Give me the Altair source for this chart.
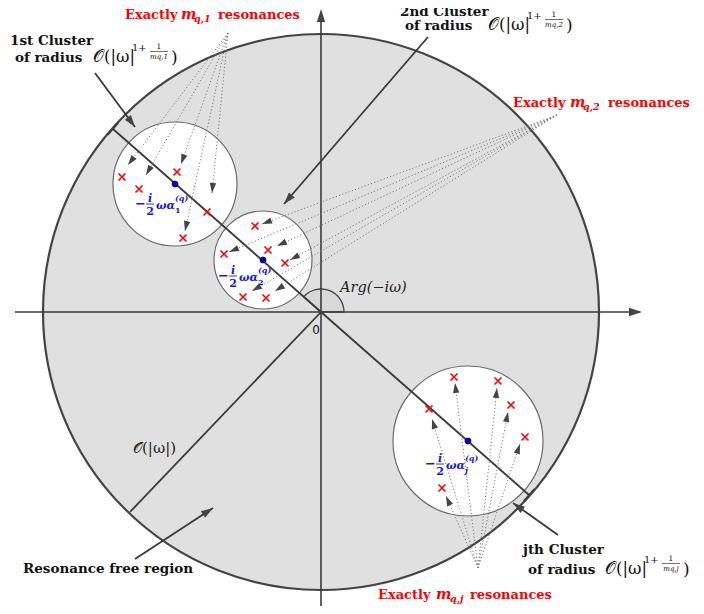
import math
import altair as alt
import pandas as pd

# ---------------- data (diagram geometry in picture units, y downward) ----------------
origin = (321, 312)
big_r = 278
cluster_cx = [175, 263, 468]
cluster_cy = [184, 260, 441]
cluster_r = [62, 49, 75]

res_x = [122, 139, 177, 207, 183,
         255, 224, 268, 285, 243, 266,
         454, 498, 511, 525, 429, 442]
res_y = [177, 189, 172, 212, 238,
         226, 254, 250, 263, 297, 298,
         377, 381, 405, 437, 409, 488]

apex_x = [228, 557, 478]
apex_y = [33, 115, 568]
tip_x = [[128, 146, 181, 212, 185],
         [262, 229, 277, 290, 252, 275],
         [455, 497, 508, 520, 432, 446]]
tip_y = [[165, 175, 164, 193, 231],
         [224, 252, 246, 260, 291, 291],
         [383, 388, 412, 444, 419, 496]]

# rays from the origin (end points on the big circle)
ray_end_x = [113, 529, 130]
ray_end_y = [129, 495, 512]

# label arrows: tail -> tip
larrow_x1 = [95, 428, 558, 135]
larrow_y1 = [73, 37, 535, 559]
larrow_x2 = [135, 284, 513, 213]
larrow_y2 = [127, 204, 503, 508]

cluster_names = ["1st Cluster", "2nd Cluster", "jth Cluster"]
cluster_subs = ["q,1", "q,2", "q,j"]
alpha_subs = ["1", "2", "j"]

RED = "#ff0000"
BLUE = "#1414ee"
BLK = "#111111"
DARK = "#3a3a3a"

# ---------------- scales ----------------
W, H = 688, 598
xs = alt.Scale(domain=[8, 696], nice=False, zero=False)
ys = alt.Scale(domain=[8, 606], nice=False, zero=False, reverse=True)


def ex(f="x"):
    return alt.X(f"{f}:Q", scale=xs, axis=None)


def ey(f="y"):
    return alt.Y(f"{f}:Q", scale=ys, axis=None)


layers = []

# big disc (vega circle symbol: diameter = sqrt(size))
disc = pd.DataFrame({"x": [origin[0]], "y": [origin[1]], "s": [(2 * big_r) ** 2]})
layers.append(alt.Chart(disc).mark_point(shape="circle", filled=True, fill="#e0e0e0",
                                         stroke="#444444", strokeWidth=2.2, opacity=1)
              .encode(x=ex(), y=ey(), size=alt.Size("s:Q", scale=None)))

# clusters
cl = pd.DataFrame({"x": cluster_cx, "y": cluster_cy,
                   "s": [(2 * r) ** 2 for r in cluster_r]})
layers.append(alt.Chart(cl).mark_point(shape="circle", filled=True, fill="white",
                                       stroke="#6a6a6a", strokeWidth=1.2, opacity=1)
              .encode(x=ex(), y=ey(), size=alt.Size("s:Q", scale=None)))

# angle sector Arg(-i w)
phi = math.atan2(origin[1] - ray_end_y[0], ray_end_x[0] - origin[0])
sec = pd.DataFrame({"x": [origin[0]], "y": [origin[1]]})
layers.append(alt.Chart(sec).mark_arc(radius=23, theta=2 * math.pi + math.pi / 2 - phi,
                                      theta2=2 * math.pi + math.pi / 2,
                                      fill="#d8d8d8", stroke="#444444", strokeWidth=1.3)
              .encode(x=ex(), y=ey()))

# solid segments
seg = []
seg.append(dict(x=15, y=312, x2=640, y2=312, w=1.6, c=DARK))
seg.append(dict(x=321, y=614, x2=321, y2=12, w=1.6, c=DARK))
for ex_, ey_ in zip(ray_end_x, ray_end_y):
    seg.append(dict(x=origin[0], y=origin[1], x2=ex_, y2=ey_, w=1.8, c=DARK))
# small perpendicular end ticks on the two cluster rays
for k in range(2):
    dx = ray_end_x[k] - origin[0]
    dy = ray_end_y[k] - origin[1]
    L = math.hypot(dx, dy)
    px, py = -dy / L, dx / L
    seg.append(dict(x=ray_end_x[k] + 8 * px, y=ray_end_y[k] + 8 * py,
                    x2=ray_end_x[k] - 8 * px, y2=ray_end_y[k] - 8 * py, w=1.6, c=DARK))
for a, b, c, d in zip(larrow_x1, larrow_y1, larrow_x2, larrow_y2):
    seg.append(dict(x=a, y=b, x2=c, y2=d, w=1.8, c=DARK))

# math label anchors (left of calligraphic O, baseline)
math_x0 = [93, 488, 605]
math_b = [62, 30, 574]
for x0, b in zip(math_x0, math_b):
    seg.append(dict(x=x0 + 57, y=b - 10.5, x2=x0 + 75, y2=b - 10.5, w=0.6, c=BLK))

# blue label anchors (left of minus sign, fraction bar level)
blue_x = [135, 218, 425]
blue_y = [204, 276, 464]
for xm, ym in zip(blue_x, blue_y):
    seg.append(dict(x=xm + 11, y=ym, x2=xm + 19, y2=ym, w=0.9, c=BLUE))

segdf = pd.DataFrame(seg)
layers.append(alt.Chart(segdf).mark_rule(strokeCap="butt")
              .encode(x=ex(), y=ey(), x2="x2:Q", y2="y2:Q",
                      strokeWidth=alt.StrokeWidth("w:Q", scale=None),
                      color=alt.Color("c:N", scale=None)))

# dotted lines
dots = []
for k in range(3):
    for tx, ty in zip(tip_x[k], tip_y[k]):
        dots.append(dict(x=apex_x[k], y=apex_y[k], x2=tx, y2=ty))
dotdf = pd.DataFrame(dots)
layers.append(alt.Chart(dotdf).mark_rule(color="#7a7a7a", strokeWidth=1, strokeDash=[1.2, 2.2])
              .encode(x=ex(), y=ey(), x2="x2:Q", y2="y2:Q"))

# arrow heads
heads = []


def head(x1, y1, x2, y2, length):
    ang = math.degrees(math.atan2(x2 - x1, -(y2 - y1))) % 360
    heads.append(dict(x=x2, y=y2, a=ang, s=(2 * length) ** 2))


for k in range(3):
    for tx, ty in zip(tip_x[k], tip_y[k]):
        head(apex_x[k], apex_y[k], tx, ty, 10)
for a, b, c, d in zip(larrow_x1, larrow_y1, larrow_x2, larrow_y2):
    head(a, b, c, d, 12)
head(15, 312, 642, 312, 13)
head(321, 614, 321, 9, 13)
hdf = pd.DataFrame(heads)
layers.append(alt.Chart(hdf).mark_point(shape="M0,0L-0.32,1L0.32,1Z", filled=True,
                                        fill="#444444", strokeWidth=0, opacity=1)
              .encode(x=ex(), y=ey(), angle=alt.Angle("a:Q", scale=None),
                      size=alt.Size("s:Q", scale=None)))

# red crosses
rdf = pd.DataFrame({"x": res_x, "y": res_y})
layers.append(alt.Chart(rdf).mark_point(shape="M-1,-1L1,1M-1,1L1,-1", filled=False,
                                        stroke=RED, strokeWidth=1.6, size=49, opacity=1)
              .encode(x=ex(), y=ey()))

# blue centres
bdf = pd.DataFrame({"x": cluster_cx, "y": cluster_cy})
layers.append(alt.Chart(bdf).mark_point(shape="circle", filled=True, fill="#0000dd",
                                        stroke="#000044", strokeWidth=0.8, size=36, opacity=1)
              .encode(x=ex(), y=ey()))

# ---------------- texts ----------------
texts = []


def T(t, x, y, s, c, st):
    texts.append(dict(t=t, x=x, y=y, s=s, c=c, st=st))


# red "Exactly m resonances" labels
red_x = [(125, 181, 194, 218), (513, 570, 583, 608), (378, 436, 450, 470)]
red_b = [19, 107, 599]
for (a, b, c, d), base, sub in zip(red_x, red_b, cluster_subs):
    T("Exactly", a, base, 13, RED, "B")
    T("m", b, base, 14.5, RED, "BI")
    T(sub, c, base + 3, 9.5, RED, "BI")
    T("resonances", d, base, 13, RED, "B")

# cluster title labels
name_xy = [(10, 45), (400, 16), (523, 554)]
radius_xy = [(15, 62), (405, 30), (528, 574)]
for nm, (nx, ny), (rx, ry) in zip(cluster_names, name_xy, radius_xy):
    T(nm, nx, ny, 13.5, BLK, "B")
    T("of radius", rx, ry, 13.5, BLK, "B")
for x0, b, sub in zip(math_x0, math_b, cluster_subs):
    T("𝒪(|ω|", x0, b, 16.5, BLK, "N")
    T("1+", x0 + 39, b - 11, 10, BLK, "N")
    T("1", x0 + 66, b - 13, 7.5, BLK, "Nc")
    T("m" + sub, x0 + 66, b - 3.5, 7, BLK, "Ic")
    T(")", x0 + 78, b + 1, 17, BLK, "N")

# blue centre labels
for xm, ym, sub in zip(blue_x, blue_y, alpha_subs):
    T("−", xm, ym + 4, 13, BLUE, "B")
    T("i", xm + 15, ym - 2, 11, BLUE, "BIc")
    T("2", xm + 15, ym + 11, 11, BLUE, "Bc")
    T("ωα", xm + 21, ym + 5, 11, BLUE, "BI")
    T(sub, xm + 40, ym + 9, 8, BLUE, "BI" if sub == "j" else "B")
    T("(q)", xm + 40, ym - 3, 8, BLUE, "BI")

T("Arg(−iω)", 340, 292, 14.5, "#222222", "I")
T("𝒪(|ω|)", 133, 453, 15, "#222222", "N")
T("Resonance free region", 23, 573, 13.5, BLK, "B")
T("0", 316, 334, 12, BLK, "S")

tdf = pd.DataFrame(texts)
styles = {
    "B": dict(font="DejaVu Serif", fontWeight="bold", fontStyle="normal", align="left"),
    "Bc": dict(font="DejaVu Serif", fontWeight="bold", fontStyle="normal", align="center"),
    "BI": dict(font="DejaVu Serif", fontWeight="bold", fontStyle="italic", align="left"),
    "BIc": dict(font="DejaVu Serif", fontWeight="bold", fontStyle="italic", align="center"),
    "N": dict(font="DejaVu Serif", fontWeight="normal", fontStyle="normal", align="left"),
    "Nc": dict(font="DejaVu Serif", fontWeight="normal", fontStyle="normal", align="center"),
    "I": dict(font="DejaVu Serif", fontWeight="normal", fontStyle="italic", align="left"),
    "Ic": dict(font="DejaVu Serif", fontWeight="normal", fontStyle="italic", align="center"),
    "S": dict(font="DejaVu Sans", fontWeight="normal", fontStyle="normal", align="center"),
}
for key, props in styles.items():
    sub = tdf[tdf.st == key]
    if len(sub) == 0:
        continue
    layers.append(alt.Chart(sub).mark_text(baseline="alphabetic", **props)
                  .encode(x=ex(), y=ey(), text="t:N",
                          size=alt.Size("s:Q", scale=None),
                          color=alt.Color("c:N", scale=None)))

chart = (alt.layer(*layers)
         .properties(width=W, height=H, padding=0,
                     autosize=alt.AutoSizeParams(type="none"))
         .configure_view(stroke=None))

chart.save("out.html", embed_options={"renderer": "svg", "actions": False})
